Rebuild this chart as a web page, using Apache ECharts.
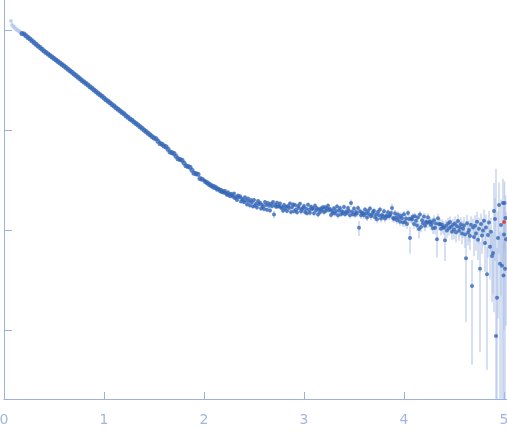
<!DOCTYPE html>
<html>
<head>
<meta charset="utf-8">
<script src="https://cdn.jsdelivr.net/npm/echarts@6/dist/echarts.min.js"></script>
<style>
  html, body { margin: 0; padding: 0; background: #fff; }
  #chart { width: 507px; height: 437px; }
</style>
</head>
<body>
<div id="chart"></div>
<script>
// points left out of the fit (drawn pale)
var qExcluded = [0.07, 0.08, 0.09, 0.10, 0.11, 0.12, 0.13, 0.14, 0.15, 0.16, 0.17]
var iExcluded = [1230, 1122, 1096, 1072, 1047, 1023, 1000, 988, 977, 955, 940]

// smooth part of the curve, errors smaller than the dots
var qLow = [
  0.18, 0.20, 0.22, 0.24, 0.26, 0.28, 0.30, 0.32, 0.34, 0.36, 0.38,
  0.40, 0.42, 0.44, 0.46, 0.48, 0.50, 0.52, 0.54, 0.56, 0.58,
  0.60, 0.62, 0.64, 0.66, 0.68, 0.70, 0.72, 0.74, 0.76, 0.78,
  0.80, 0.82, 0.84, 0.86, 0.88, 0.90, 0.92, 0.94, 0.96, 0.98,
  1.00, 1.02, 1.04, 1.06, 1.08, 1.10, 1.12, 1.14, 1.16, 1.18,
  1.20, 1.22, 1.24, 1.26, 1.28, 1.30, 1.32, 1.34, 1.36, 1.38,
  1.40, 1.42, 1.44, 1.46, 1.48, 1.50, 1.52, 1.54, 1.56, 1.58,
  1.60, 1.62, 1.64, 1.66, 1.68, 1.70, 1.72, 1.74, 1.76, 1.78,
  1.80, 1.82, 1.84, 1.86, 1.88, 1.90, 1.92, 1.94, 1.96, 1.98
]
var iLow = [
  923, 912, 877, 843, 811, 780, 750, 721, 693, 667, 641,
  617, 596, 575, 556, 537, 519, 501, 484, 468, 452,
  437, 421, 406, 391, 377, 363, 350, 337, 325, 313,
  302, 291, 281, 270, 261, 251, 242, 233, 225, 217,
  209, 201, 194, 187, 180, 174, 167, 161, 156, 150,
  145, 139, 134, 129, 125, 120, 116, 112, 108, 104,
  100, 96.4, 92.9, 89.5, 86.3, 83.2, 81.5, 77.3, 73.2, 71.8,
  69.2, 67.8, 64.0, 60.4, 59.2, 58.1, 54.7, 51.5, 50.6, 49.8,
  46.8, 43.8, 43.1, 42.5, 39.6, 37.0, 36.5, 36.0, 32.8, 32.2
]

// noisy tail with error bars
var qHigh = [
  2.00, 2.01, 2.02, 2.03, 2.04, 2.05, 2.06, 2.07, 2.08, 2.09,
  2.10, 2.11, 2.12, 2.13, 2.14, 2.15, 2.16, 2.17, 2.18, 2.19,
  2.20, 2.21, 2.22, 2.23, 2.24, 2.25, 2.26, 2.27, 2.28, 2.29,
  2.30, 2.31, 2.32, 2.33, 2.34, 2.35, 2.36, 2.37, 2.38, 2.39,
  2.40, 2.41, 2.42, 2.43, 2.44, 2.45, 2.46, 2.47, 2.48, 2.49,
  2.50, 2.51, 2.52, 2.53, 2.54, 2.55, 2.56, 2.57, 2.58, 2.59,
  2.60, 2.61, 2.62, 2.63, 2.64, 2.65, 2.66, 2.67, 2.68, 2.69,
  2.70, 2.71, 2.72, 2.73, 2.74, 2.75, 2.76, 2.77, 2.78, 2.79,
  2.80, 2.81, 2.82, 2.83, 2.84, 2.85, 2.86, 2.87, 2.88, 2.89,
  2.90, 2.91, 2.92, 2.93, 2.94, 2.95, 2.96, 2.97, 2.98, 2.99,
  3.00, 3.01, 3.02, 3.03, 3.04, 3.05, 3.06, 3.07, 3.08, 3.09,
  3.10, 3.11, 3.12, 3.13, 3.14, 3.15, 3.16, 3.17, 3.18, 3.19,
  3.20, 3.21, 3.22, 3.23, 3.24, 3.25, 3.26, 3.27, 3.28, 3.29,
  3.30, 3.31, 3.32, 3.33, 3.34, 3.35, 3.36, 3.37, 3.38, 3.39,
  3.40, 3.41, 3.42, 3.43, 3.44, 3.45, 3.46, 3.47, 3.48, 3.49,
  3.50, 3.51, 3.52, 3.53, 3.54, 3.55, 3.56, 3.57, 3.58, 3.59,
  3.60, 3.61, 3.62, 3.63, 3.64, 3.65, 3.66, 3.67, 3.68, 3.69,
  3.70, 3.71, 3.72, 3.73, 3.74, 3.75, 3.76, 3.77, 3.78, 3.79,
  3.80, 3.81, 3.82, 3.83, 3.84, 3.85, 3.86, 3.87, 3.88, 3.89,
  3.90, 3.91, 3.92, 3.93, 3.94, 3.95, 3.96, 3.97, 3.98, 3.99,
  4.00, 4.01, 4.02, 4.03, 4.04, 4.05, 4.06, 4.07, 4.08, 4.09,
  4.10, 4.11, 4.12, 4.13, 4.14, 4.15, 4.16, 4.17, 4.18, 4.19,
  4.20, 4.21, 4.22, 4.23, 4.24, 4.25, 4.26, 4.27, 4.28, 4.29,
  4.30, 4.31, 4.32, 4.33, 4.34, 4.35, 4.36, 4.37, 4.38, 4.39,
  4.40, 4.41, 4.42, 4.43, 4.44, 4.45, 4.46, 4.47, 4.48, 4.49,
  4.50, 4.51, 4.52, 4.53, 4.54, 4.55, 4.56, 4.57, 4.58, 4.59,
  4.60, 4.61, 4.62, 4.63, 4.64, 4.65, 4.66, 4.67, 4.68, 4.69,
  4.70, 4.71, 4.72, 4.73, 4.74, 4.75, 4.76, 4.77, 4.78, 4.79,
  4.80, 4.81, 4.82, 4.83, 4.84, 4.85, 4.86, 4.87, 4.88, 4.89,
  4.90, 4.91, 4.92, 4.93, 4.94, 4.95, 4.96, 4.97, 4.98, 4.99,
  4.995, 5.00, 5.005, 5.01, 5.015, 5.02
]
var iHigh = [
  31.5, 30.2, 30.6, 29.1, 29.8, 28.2, 28.9, 27.4, 28.0, 26.6,
  27.5, 26.1, 26.9, 25.2, 26.0, 25.6, 24.4, 25.3, 23.8, 24.6,
  23.5, 24.6, 23.2, 22.4, 23.8, 22.7, 21.8, 23.0, 22.3, 21.5,
  23.2, 20.8, 21.5, 20.0, 22.1, 21.1, 21.8, 19.3, 20.6, 19.9,
  18.9, 21.2, 19.6, 18.0, 20.6, 19.2, 17.6, 19.9, 18.8, 17.2,
  20.0, 17.5, 18.3, 16.8, 19.5, 18.1, 18.7, 16.4, 17.9, 17.1,
  16.2, 19.0, 17.8, 15.9, 18.6, 17.5, 15.7, 18.3, 17.3, 19.0,
  14.3, 17.8, 17.1, 18.7, 17.2, 17.4, 18.4, 16.7, 16.9, 15.6,
  17.8, 16.2, 17.1, 15.5, 17.4, 16.6, 18.4, 15.1, 16.9, 18.0,
  15.4, 17.8, 16.0, 15.0, 17.4, 16.6, 18.3, 15.3, 16.1, 16.7,
  17.4, 15.1, 16.3, 14.7, 17.9, 15.9, 14.9, 17.1, 16.2, 16.5,
  14.7, 17.5, 15.7, 16.5, 14.3, 16.0, 15.0, 16.4, 15.8, 16.9,
  15.1, 16.9, 15.6, 16.4, 17.5, 15.8, 16.2, 14.1, 15.5, 14.8,
  16.5, 14.6, 15.5, 17.2, 14.0, 15.7, 16.6, 14.4, 15.4, 14.9,
  17.0, 14.4, 15.3, 14.8, 16.6, 15.5, 14.0, 18.6, 15.2, 14.4,
  16.4, 14.2, 15.1, 14.6, 16.6, 10.5, 15.4, 14.0, 14.9, 14.6,
  14.0, 16.0, 14.7, 13.3, 15.5, 14.4, 16.4, 13.7, 14.3, 15.1,
  15.6, 13.4, 14.3, 12.8, 15.2, 14.0, 16.0, 13.0, 14.1, 13.6,
  15.4, 13.0, 13.9, 13.6, 15.0, 13.7, 14.0, 14.8, 16.6, 13.2,
  12.9, 14.7, 13.4, 12.5, 14.3, 13.2, 12.1, 13.9, 13.1, 11.9,
  14.4, 12.0, 13.0, 11.5, 14.8, 12.9, 8.3, 13.0, 12.7, 13.6,
  11.5, 13.7, 12.4, 11.1, 13.3, 10.2, 14.3, 10.7, 12.5, 11.7,
  13.6, 11.0, 12.1, 11.8, 13.4, 11.9, 12.2, 11.2, 11.8, 10.4,
  12.5, 10.5, 11.6, 8.1, 13.1, 11.4, 11.5, 10.3, 11.3, 10.7,
  10.5, 7.9, 11.0, 9.9, 11.6, 10.4, 12.0, 10.8, 9.6, 11.3,
  10.1, 11.6, 9.5, 10.9, 12.3, 9.8, 10.6, 11.4, 9.2, 10.3,
  11.1, 9.0, 5.2, 11.7, 9.4, 10.0, 8.7, 11.3, 2.75, 10.6,
  8.5, 11.0, 9.2, 12.1, 8.0, 10.3, 4.1, 11.5, 8.8, 9.9,
  12.4, 7.4, 10.6, 3.6, 8.9, 11.9, 6.8, 9.6, 5.5, 5.9,
  15.5, 12.9, 0.87, 2.1, 8.3, 17.8, 4.6, 11.2, 4.4, 18.6,
  3.5, 9.0, 18.6, 4.1, 13.2, 8.1
]
var sigmaHigh = [
  0.9, 0.9, 0.9, 0.9, 0.9, 0.9, 0.9, 0.9, 0.9, 0.9,
  0.8, 0.8, 0.8, 0.8, 0.8, 0.8, 0.8, 0.8, 0.8, 0.8,
  0.7, 0.7, 0.7, 0.7, 0.7, 0.7, 0.7, 0.7, 0.7, 0.7,
  0.7, 0.7, 0.7, 0.7, 0.7, 0.7, 0.7, 0.7, 0.7, 0.7,
  0.7, 0.7, 0.7, 0.7, 0.7, 0.7, 0.7, 0.7, 0.7, 0.7,
  0.9, 0.9, 0.9, 0.9, 0.9, 0.9, 0.9, 0.9, 0.9, 0.9,
  0.9, 0.9, 0.9, 0.9, 0.9, 0.9, 0.9, 0.9, 0.9, 0.9,
  1.3, 0.9, 0.9, 0.9, 0.9, 0.9, 0.9, 0.9, 0.9, 0.9,
  0.9, 0.9, 0.9, 0.9, 0.9, 0.9, 0.9, 0.9, 0.9, 0.9,
  0.9, 0.9, 0.9, 0.9, 0.9, 0.9, 0.9, 0.9, 0.9, 0.9,
  1.0, 1.0, 1.0, 1.0, 1.0, 1.0, 1.0, 1.0, 1.0, 1.0,
  1.0, 1.0, 1.0, 1.0, 1.0, 1.0, 1.0, 1.0, 1.0, 1.0,
  1.0, 1.0, 1.0, 1.0, 1.0, 1.0, 1.0, 1.0, 1.0, 1.0,
  1.0, 1.0, 1.0, 1.0, 1.0, 1.0, 1.0, 1.0, 1.0, 1.0,
  1.0, 1.0, 1.0, 1.0, 1.0, 1.0, 1.0, 1.6, 1.0, 1.0,
  1.1, 1.1, 1.1, 1.1, 1.1, 1.8, 1.1, 1.1, 1.1, 1.1,
  1.1, 1.1, 1.1, 1.1, 1.1, 1.1, 1.1, 1.1, 1.1, 1.1,
  1.1, 1.1, 1.1, 1.1, 1.1, 1.1, 1.1, 1.1, 1.1, 1.1,
  1.1, 1.1, 1.1, 1.1, 1.1, 1.1, 1.1, 1.1, 1.6, 1.1,
  1.1, 1.1, 1.1, 1.1, 1.1, 1.1, 1.1, 1.1, 1.1, 1.1,
  1.2, 1.2, 1.2, 1.2, 1.2, 1.2, 2.5, 1.2, 1.2, 1.2,
  1.2, 1.2, 1.2, 1.2, 1.2, 2.0, 1.2, 1.2, 1.2, 1.2,
  1.3, 1.3, 1.3, 1.3, 1.3, 1.3, 1.3, 1.3, 1.3, 1.3,
  1.5, 1.5, 1.5, 2.8, 1.5, 1.5, 1.5, 1.5, 1.5, 1.5,
  1.6, 3.0, 1.6, 1.6, 1.6, 1.6, 1.6, 1.6, 1.6, 1.6,
  2.0, 2.0, 2.0, 2.0, 2.0, 2.0, 2.0, 2.0, 2.0, 2.0,
  2.4, 2.4, 4.0, 2.4, 2.4, 2.4, 2.4, 2.4, 2.3, 2.4,
  3.0, 3.0, 3.0, 3.0, 3.0, 3.0, 3.5, 3.0, 3.0, 3.0,
  3.6, 3.6, 3.6, 3.2, 3.6, 3.6, 3.6, 3.6, 3.6, 3.6,
  14, 8, 40, 4.5, 7, 12, 5, 9, 5, 14,
  4, 8, 12, 5, 9, 7
]

// the one point flagged in red
var qFlag = [5.00]
var iFlag = [12.0]
var sigmaFlag = [6]

var xTicks = [0, 1, 2, 3, 4, 5]
var yTicks = [1, 10, 100, 1000]

var yMin = 0.204
var yMax = 1995

function toPoints(q, iv) {
  return q.map(function(x, k) { return [x, iv[k]] })
}
function toBars(q, iv, s) {
  // lower end clipped to the bottom of the axis when it goes below zero
  return q.map(function(x, k) { return [x, Math.max(iv[k] - s[k], yMin), iv[k] + s[k]] })
}

var chart = echarts.init(document.getElementById('chart'))

function renderBar(params, api) {
  var top = api.coord([api.value(0), api.value(2)])
  var bottom = api.coord([api.value(0), api.value(1)])
  return {
    type: 'line',
    shape: { x1: top[0], y1: top[1], x2: bottom[0], y2: bottom[1] },
    style: { stroke: 'rgba(170, 192, 228, 0.65)', lineWidth: 1.5 }
  }
}

var axisColor = '#9cb1de'

var option = {
  animation: false,
  backgroundColor: '#fff',
  grid: { left: 4, right: 0, top: 0, bottom: 38, outerBoundsMode: 'none' },
  xAxis: {
    type: 'value',
    min: 0,
    max: 5.03,
    splitLine: { show: false },
    axisLine: { lineStyle: { color: axisColor, width: 1 } },
    axisTick: { inside: true, length: 7, customValues: xTicks, lineStyle: { color: axisColor } },
    axisLabel: {
      customValues: xTicks,
      color: '#a3b6df',
      fontSize: 14,
      fontFamily: 'DejaVu Sans',
      margin: 14
    }
  },
  yAxis: {
    type: 'log',
    min: yMin,
    max: yMax,
    splitLine: { show: false },
    axisLine: { show: true, lineStyle: { color: axisColor, width: 1 } },
    axisTick: { show: true, inside: true, length: 8, customValues: yTicks, lineStyle: { color: axisColor } },
    axisLabel: { show: false }
  },
  series: [
    {
      type: 'custom',
      renderItem: renderBar,
      encode: { x: 0, y: [1, 2] },
      data: toBars(qHigh, iHigh, sigmaHigh),
      silent: true,
      z: 1
    },
    {
      type: 'custom',
      renderItem: renderBar,
      encode: { x: 0, y: [1, 2] },
      data: toBars(qFlag, iFlag, sigmaFlag),
      silent: true,
      z: 1
    },
    {
      type: 'scatter',
      data: toPoints(qExcluded, iExcluded),
      symbolSize: 4,
      itemStyle: { color: '#b8c9ea' },
      silent: true,
      z: 2
    },
    {
      type: 'scatter',
      data: toPoints(qLow, iLow),
      symbolSize: 5,
      itemStyle: { color: '#3566b7' },
      silent: true,
      z: 3
    },
    {
      type: 'scatter',
      data: toPoints(qHigh, iHigh),
      symbolSize: 4,
      itemStyle: { color: '#3566b7' },
      silent: true,
      z: 3
    },
    {
      type: 'scatter',
      data: toPoints(qFlag, iFlag),
      symbolSize: 4,
      itemStyle: { color: '#e5262b' },
      silent: true,
      z: 4
    }
  ]
}
chart.setOption(option)
</script>
</body>
</html>
